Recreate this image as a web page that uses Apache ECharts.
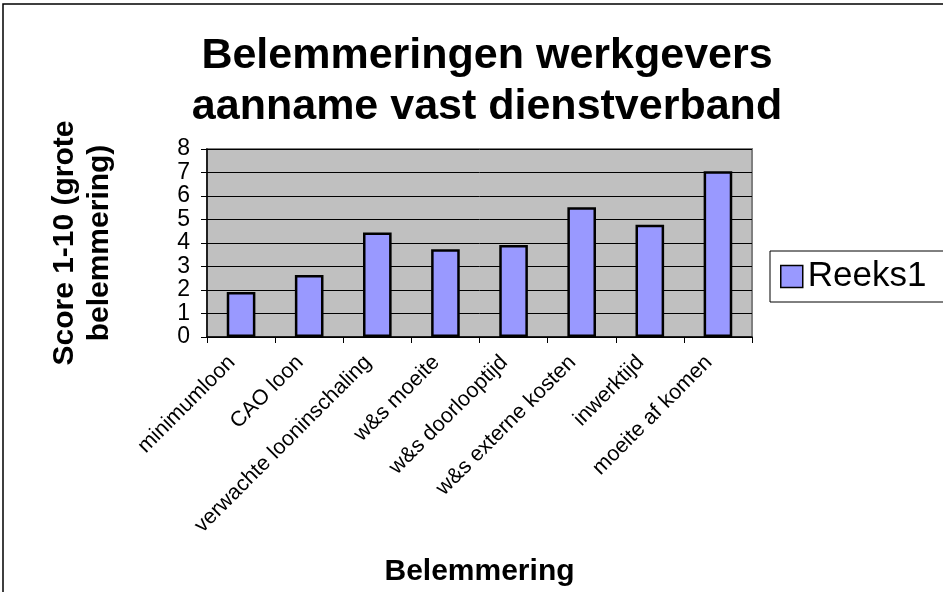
<!DOCTYPE html>
<html>
<head>
<meta charset="utf-8">
<script src="https://cdn.jsdelivr.net/npm/echarts@6/dist/echarts.min.js"></script>
<style>html,body{margin:0;padding:0;background:#fff}#c{width:943px;height:592px}</style>
</head>
<body>
<div id="c"></div>
<script>
var categories = ['minimumloon', 'CAO loon', 'verwachte looninschaling', 'w&s moeite', 'w&s doorlooptijd', 'w&s externe kosten', 'inwerktijd', 'moeite af komen'];
var reeks1 = [1.92, 2.64, 4.45, 3.73, 3.91, 5.52, 4.78, 7.05];
var yTicks = [0, 1, 2, 3, 4, 5, 6, 7, 8];
var seriesName = 'Reeks1';
var titleText = 'Belemmeringen werkgevers\naanname vast dienstverband';
var yName = 'Score 1-10 (grote\nbelemmering)';
var xName = 'Belemmering';

var FONT = '"Liberation Sans", Arial, sans-serif';
var chart = echarts.init(document.getElementById('c'));
chart.setOption({
  animation: false,
  textStyle: { fontFamily: FONT },
  title: {
    text: titleText,
    left: 482,
    top: 26,
    textAlign: 'center',
    textStyle: { fontFamily: FONT, fontSize: 43, fontWeight: 'bold', color: '#000', lineHeight: 51 }
  },
  graphic: [{
    type: 'rect',
    shape: { x: 3, y: 4, width: 1200, height: 1200 },
    style: { fill: 'none', stroke: '#000', lineWidth: 1.5 },
    silent: true,
    z: -10
  }],
  legend: {
    data: [seriesName],
    left: 770,
    top: 251,
    orient: 'vertical',
    icon: 'rect',
    itemWidth: 22,
    itemHeight: 22,
    padding: [8, 80, 8, 10],
    borderColor: '#000',
    borderWidth: 1,
    backgroundColor: '#fff',
    textStyle: { fontFamily: FONT, fontSize: 35, color: '#000' },
    itemStyle: { borderColor: '#000', borderWidth: 1.5 }
  },
  grid: {
    left: 207, right: 191, top: 149, bottom: 255,
    show: true,
    backgroundColor: '#c0c0c0',
    borderColor: '#808080',
    borderWidth: 2,
    containLabel: false
  },
  xAxis: {
    type: 'category',
    data: categories,
    name: xName,
    nameLocation: 'middle',
    nameGap: 220,
    nameTextStyle: { fontFamily: FONT, fontSize: 30, fontWeight: 'bold', color: '#000' },
    axisLine: { show: true, lineStyle: { color: '#000', width: 1.5 } },
    axisTick: { show: true, alignWithLabel: false, length: 6, lineStyle: { color: '#000', width: 1 } },
    axisLabel: { rotate: 45, interval: 0, margin: 13, padding: [0, 13, 0, 0], fontFamily: FONT, fontSize: 21.5, color: '#000' },
    splitLine: { show: false }
  },
  yAxis: {
    type: 'value',
    min: 0, max: 8, interval: 1,
    name: yName,
    nameLocation: 'middle',
    nameGap: 90,
    nameRotate: 90,
    nameTextStyle: { fontFamily: FONT, fontSize: 30, fontWeight: 'bold', color: '#000', lineHeight: 35, align: 'center' },
    axisLine: { show: true, lineStyle: { color: '#000', width: 1.5 } },
    axisTick: { show: true, length: 6, lineStyle: { color: '#000', width: 1 } },
    axisLabel: {
      margin: 17, fontFamily: FONT, fontSize: 23, color: '#000',
      formatter: function (v) { return yTicks.indexOf(v) >= 0 ? String(v) : ''; }
    },
    splitLine: { show: true, lineStyle: { color: '#000', width: 1 } }
  },
  series: [{
    name: seriesName,
    type: 'bar',
    data: reeks1,
    barWidth: '42%',
    itemStyle: { color: '#9999ff', borderColor: '#000', borderWidth: 2.5 }
  }]
});
</script>
</body>
</html>
